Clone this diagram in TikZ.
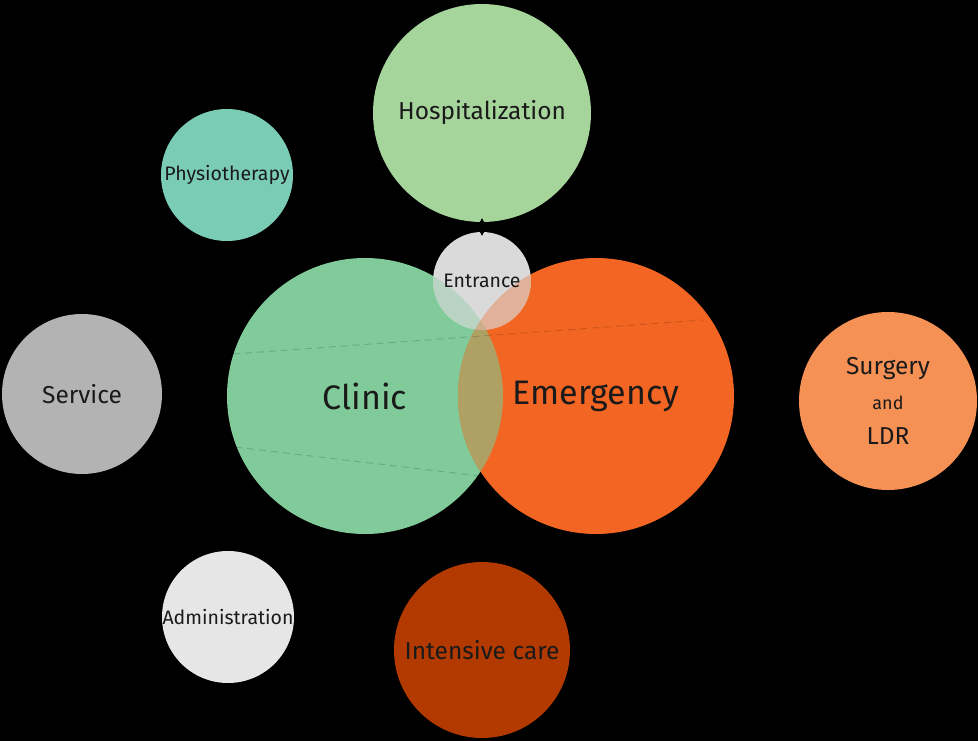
\documentclass[tikz,border=0pt]{standalone}
\usepackage{fontspec}
\setmainfont{Fira Sans}
\usetikzlibrary{arrows.meta}

\definecolor{hospgreen}{HTML}{A6D59C}
\definecolor{physteal}{HTML}{7ACCB4}
\definecolor{clinicgreen}{HTML}{80CB99}
\definecolor{emerorange}{HTML}{F26522}
\definecolor{overlapolive}{HTML}{AFA064}
\definecolor{surgorange}{HTML}{F69156}
\definecolor{icured}{HTML}{B23A00}
\definecolor{servgray}{HTML}{B3B3B3}
\definecolor{admingray}{HTML}{E6E6E6}
\definecolor{entrgray}{HTML}{DADADA}
\definecolor{textdark}{HTML}{1A1A1A}

\begin{document}
\begin{tikzpicture}[x=1pt, y=-1pt,
    room/.style={circle, inner sep=0pt, outer sep=0pt},
    bigname/.style={font=\fontsize{34}{37}\selectfont, text=textdark},
    midname/.style={font=\fontsize{24.5}{27}\selectfont, text=textdark},
    smallname/.style={font=\fontsize{19.5}{22}\selectfont, text=textdark},
    divider/.style={dashed, dash pattern=on 7pt off 5pt, black, opacity=0.15, line width=1pt},
    link/.style={{Latex[length=5pt,width=6pt]}-{Latex[length=5pt,width=6pt]}, black, line width=0.8pt,
                 shorten <=-4pt, shorten >=-4pt},
]

% background
\fill[black] (0,0) rectangle (978,741);
\useasboundingbox (0,0) rectangle (978,741);

% outer rooms
\node[room, fill=hospgreen, minimum size=218pt, label={[midname]center:Hospitalization}] (hosp) at (482,113) {};
\node[room, fill=physteal, minimum size=132pt, label={[smallname]center:Physiotherapy}] (physio) at (227,175) {};
\node[room, fill=servgray, minimum size=160pt, label={[midname]center:Service}] (service) at (82,394) {};
\node[room, fill=surgorange, minimum size=178pt,
      label={[midname, align=center]center:Surgery\\[8pt]{\fontsize{18}{20}\selectfont and}\\[8pt]LDR}] (surgery) at (888,401) {};
\node[room, fill=admingray, minimum size=132pt, label={[smallname]center:Administration}] (admin) at (228,617) {};
\node[room, fill=icured, minimum size=176pt, label={[midname]center:Intensive care}] (icu) at (482,650) {};

% core: clinic and emergency
\node[room, fill=clinicgreen, minimum size=276pt, label={[bigname]center:Clinic}] (clinic) at (365,396) {};
\node[room, fill=emerorange, minimum size=276pt, label={[bigname]center:Emergency}] (emer) at (596,396) {};
\begin{scope}
  \clip (clinic.center) circle[radius=138];
  \fill[overlapolive] (emer.center) circle[radius=138];
\end{scope}

% faint zone lines
\coordinate (cutA) at (233,354);
\coordinate (cutB) at (703,320);
\coordinate (cutC) at (235,447);
\coordinate (cutD) at (480,476);
\draw[divider] (cutA) -- (cutB);
\draw[divider] (cutC) -- (cutD);

% entrance
\node[room, fill=entrgray, minimum size=98pt] (entr) at (482,281) {};
\begin{scope}
  \clip (entr.center) circle[radius=49];
  \fill[clinicgreen, opacity=0.35] (clinic.center) circle[radius=138];
  \fill[emerorange, opacity=0.35] (emer.center) circle[radius=138];
\end{scope}
\node[smallname] (entrtext) at (entr.center) {Entrance};

\draw[link] (hosp.south) -- (entr.north);

\end{tikzpicture}
\end{document}
